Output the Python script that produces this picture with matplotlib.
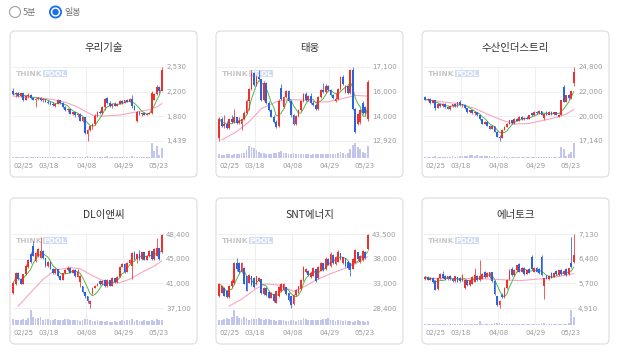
import numpy as np
import pandas as pd
import matplotlib
matplotlib.use('Agg')
import matplotlib.pyplot as plt
from matplotlib.patches import FancyBboxPatch, Rectangle, Circle
from matplotlib.transforms import ScaledTranslation

# ---------------- data ----------------
names = ['우리기술', '태웅', '수산인더스트리', 'DL이앤씨', 'SNT에너지', '에너토크']
date_idx = [0, 14.5, 29.5, 44.5, 60]
date_labels = ['02/25', '03/18', '04/08', '04/29', '05/23']

ylabels_woori = ['1,439', '1,800', '2,200', '2,530']
ylabels_taewoong = ['12,920', '14,000', '16,000', '17,100']
ylabels_susan = ['17,140', '20,000', '22,000', '24,800']
ylabels_dl = ['37,100', '41,000', '45,000', '48,400']
ylabels_snt = ['28,400', '33,000', '38,000', '43,500']
ylabels_enertork = ['4,910', '5,700', '6,400', '7,130']

# rows: open, high, low, close
ohlc_woori = [
    [2170, 2215, 2110, 2125], [2125, 2160, 2095, 2145], [2145, 2160, 2090, 2100], [2100, 2150, 2090, 2140],
    [2140, 2150, 2030, 2050], [2050, 2110, 2040, 2100], [2100, 2140, 2070, 2120], [2120, 2130, 2060, 2070],
    [2070, 2090, 2040, 2050], [2040, 2075, 1945, 2060], [2060, 2090, 2040, 2075], [2075, 2085, 2030, 2040],
    [2040, 2070, 2020, 2060], [2060, 2065, 2010, 2020], [2020, 2040, 1990, 2000], [2000, 2025, 1975, 1985],
    [1985, 2010, 1960, 1970], [1960, 1995, 1940, 1990], [1990, 2065, 1985, 2045], [2045, 2050, 1990, 2000],
    [2000, 2010, 1930, 1945], [1945, 1960, 1880, 1890], [1890, 1920, 1870, 1905], [1905, 1910, 1830, 1840],
    [1840, 1870, 1820, 1860], [1860, 1875, 1800, 1815], [1815, 1850, 1800, 1840], [1840, 1845, 1730, 1740],
    [1730, 1800, 1720, 1790], [1790, 1795, 1545, 1560], [1540, 1620, 1439, 1600], [1600, 1670, 1590, 1660],
    [1660, 1700, 1620, 1690], [1690, 1830, 1680, 1810], [1810, 1880, 1800, 1860], [1860, 1900, 1830, 1845],
    [1845, 1960, 1840, 1940], [1940, 2070, 1900, 2060], [2070, 2085, 1990, 2000], [2000, 2030, 1940, 1950],
    [1950, 1990, 1930, 1980], [1980, 2010, 1950, 1960], [1960, 2000, 1950, 1990], [1990, 2040, 1980, 2030],
    [2030, 2050, 1990, 2000], [2000, 2050, 1995, 2045], [2045, 2060, 2010, 2020], [2020, 2070, 2015, 2060],
    [2060, 2120, 1930, 1950], [1950, 1965, 1890, 1900], [1730, 1880, 1715, 1865], [1865, 1880, 1820, 1830],
    [1830, 1850, 1810, 1845], [1845, 1860, 1815, 1825], [1825, 1850, 1815, 1840], [1840, 1860, 1830, 1850],
    [1850, 2180, 1830, 2150], [2050, 2150, 2040, 2130], [2130, 2260, 2110, 2240], [2240, 2250, 2150, 2170],
    [2180, 2530, 2170, 2480]]

ohlc_taewoong = [
    [13100, 14250, 12920, 14190], [14190, 14250, 13700, 13750], [13750, 14380, 13650, 13900], [13900, 14050, 13600, 13650],
    [13650, 14200, 13600, 14150], [14150, 14400, 13950, 14000], [14000, 14750, 13950, 14250], [14250, 14300, 13900, 13950],
    [13950, 14300, 13900, 14050], [13900, 14200, 13550, 14150], [14150, 14600, 14100, 14500], [14500, 15300, 14450, 15200],
    [15200, 15900, 14650, 15850], [15850, 16950, 15800, 16750], [16750, 16800, 16050, 16100], [16100, 16650, 16050, 16550],
    [16550, 16950, 16350, 16400], [16400, 16450, 15200, 15250], [15250, 16300, 15200, 16200], [16200, 16250, 15000, 15050],
    [15050, 15200, 14600, 14650], [14650, 14750, 14250, 14300], [14300, 14400, 13950, 14000], [14000, 14100, 13650, 13700],
    [13750, 15300, 13700, 15200], [15900, 16150, 15250, 15300], [14850, 15450, 14800, 15400], [15400, 15800, 15350, 15750],
    [15750, 15800, 15100, 15200], [15200, 15250, 14300, 14400], [14400, 14450, 13850, 13900], [13900, 14400, 13820, 14350],
    [14350, 14700, 14300, 14650], [14650, 15250, 14600, 15200], [15200, 15650, 15150, 15600], [15600, 15700, 15200, 15250],
    [15250, 15500, 15200, 15450], [15450, 15650, 15000, 15050], [15050, 15200, 14900, 14950], [14950, 15050, 14650, 14700],
    [14700, 15450, 14650, 15400], [15400, 15850, 15350, 15800], [15800, 16200, 15650, 15700], [15700, 16150, 15650, 16050],
    [16050, 16100, 15750, 15800], [15800, 15850, 15450, 15500], [15500, 15600, 15300, 15350], [15200, 15650, 15150, 15300],
    [15300, 15900, 15250, 15850], [15850, 16600, 15800, 16540], [16540, 16650, 16100, 16150], [15700, 16100, 15650, 16000],
    [16000, 16050, 15600, 15650], [15650, 17000, 15600, 16950], [16950, 17100, 14650, 14700], [14700, 14800, 13350, 13450],
    [13900, 14500, 13800, 14450], [14000, 14750, 13900, 14650], [15040, 15200, 14450, 14480], [14850, 14900, 14450, 14480],
    [14150, 16350, 14050, 16250]]

ohlc_susan = [
    [21700, 21750, 21350, 21400], [21400, 21550, 21300, 21500], [21500, 21550, 21000, 21100], [21100, 21400, 21050, 21350],
    [21350, 21400, 20330, 20600], [20600, 21100, 20550, 21000], [21000, 21100, 20700, 20750], [20750, 21050, 20700, 21000],
    [21000, 21050, 20600, 20650], [20650, 20750, 20450, 20500], [20500, 20800, 20300, 20750], [20750, 21000, 20700, 20950],
    [20950, 21050, 20700, 20750], [20750, 21200, 20700, 21150], [21150, 21350, 20800, 20850], [20850, 21000, 20700, 20900],
    [20900, 20950, 20500, 20550], [20550, 20600, 20050, 20100], [20100, 20400, 20050, 20350], [20350, 20400, 19950, 20000],
    [20000, 20150, 19800, 20100], [20100, 20150, 19750, 19800], [19800, 19850, 19350, 19400], [19400, 19450, 18900, 18950],
    [18950, 19200, 18900, 19150], [19150, 19200, 18650, 18700], [18700, 18750, 18350, 18400], [18400, 18700, 18350, 18650],
    [18650, 18700, 18050, 18100], [18100, 18150, 17550, 17600], [17600, 17800, 17140, 17450], [17450, 18350, 17400, 18300],
    [18300, 18700, 18250, 18600], [18600, 19000, 18550, 18950], [18950, 19350, 18900, 19300], [19300, 19350, 18950, 19000],
    [19000, 19500, 18950, 19450], [19450, 19500, 19200, 19250], [19250, 19700, 19200, 19650], [19650, 19700, 19350, 19400],
    [19400, 19600, 19350, 19550], [19550, 19700, 19400, 19450], [19450, 19850, 19400, 19800], [20000, 20050, 19750, 19800],
    [19800, 20200, 19750, 20150], [20150, 20250, 19950, 20000], [20000, 20300, 19950, 20200], [20200, 20250, 19800, 19850],
    [19500, 20000, 19300, 19950], [20100, 20200, 19800, 19850], [19850, 20200, 19800, 20150], [20150, 20200, 19850, 19900],
    [19900, 20150, 19850, 20100], [20100, 20150, 19800, 19850], [19650, 19950, 19600, 19850], [19850, 21400, 19800, 21350],
    [22750, 22900, 21150, 21200], [21200, 21950, 21150, 21900], [21900, 22000, 21500, 21550], [21550, 22400, 21500, 22350],
    [23100, 24800, 22800, 24250]]

ohlc_dl = [
    [39450, 41000, 39200, 40950], [40700, 42600, 40650, 42500], [42500, 42600, 41300, 41500], [41500, 41700, 40700, 40800],
    [40800, 42300, 40750, 42250], [42250, 43800, 42200, 43500], [43300, 44600, 43200, 44500], [45300, 45600, 44000, 44100],
    [46500, 47300, 45000, 45100], [44300, 45600, 44200, 45500], [45000, 46200, 44900, 46100], [44800, 47900, 44700, 45800],
    [45800, 45900, 44600, 44700], [44700, 44800, 43300, 43500], [43500, 44300, 43400, 44200], [44200, 44250, 43000, 43100],
    [43100, 43200, 42300, 42400], [42400, 43200, 42300, 43000], [43000, 43100, 41900, 42000], [42000, 42100, 41300, 41400],
    [41400, 42500, 41350, 42400], [42400, 43100, 42300, 42900], [42900, 43500, 42800, 43200], [43200, 43300, 42400, 42500],
    [42500, 43000, 42400, 42900], [42900, 43000, 41900, 42000], [41900, 43000, 41800, 42600], [41000, 42100, 40300, 42000],
    [40400, 40500, 39400, 39500], [39500, 39600, 38700, 38900], [38900, 39000, 37900, 38100], [37700, 38300, 37100, 38200],
    [39400, 40300, 39300, 40200], [40200, 40600, 40100, 40500], [40500, 40900, 40400, 40800], [41200, 41300, 40600, 40700],
    [40700, 41300, 40600, 41200], [41400, 41500, 40300, 40400], [40400, 41500, 40350, 41400], [41400, 41450, 40400, 40500],
    [40500, 41800, 40450, 41700], [41700, 41750, 40900, 41000], [41000, 42000, 40950, 41900], [41900, 43500, 41850, 43400],
    [43400, 43900, 43300, 43800], [43800, 44000, 42500, 42600], [42600, 44100, 42550, 44000], [44000, 44600, 43900, 44500],
    [43500, 45700, 41500, 45500], [45500, 45800, 44500, 44600], [44600, 45400, 44000, 45300], [45300, 46000, 44500, 44600],
    [44600, 45700, 44500, 45600], [45600, 45700, 44400, 44500], [44500, 45200, 44400, 45100], [45100, 45900, 44900, 45800],
    [45800, 45850, 44450, 44550], [44550, 46200, 44500, 46100], [45100, 47800, 45000, 46200], [46200, 46300, 44500, 44600],
    [45600, 48400, 45500, 48300]]

ohlc_snt = [
    [30850, 33400, 30700, 33200], [31550, 32950, 31450, 32850], [32550, 32700, 30800, 30900], [31850, 31950, 30450, 30550],
    [30550, 33000, 30400, 32900], [32900, 34300, 32500, 33900], [33400, 37800, 33300, 37600], [37600, 38700, 35900, 36300],
    [37600, 37800, 35500, 35650], [35650, 37700, 35500, 37500], [36600, 36800, 33200, 33300], [34900, 35000, 31800, 31900],
    [33600, 35300, 33500, 35200], [34900, 35000, 32900, 33000], [34600, 34700, 32500, 32600], [33200, 35000, 33100, 34900],
    [34000, 34800, 33900, 34600], [34300, 34400, 31200, 31400], [31200, 32600, 31000, 32400], [32500, 32600, 30900, 31000],
    [31600, 31700, 30400, 30500], [30500, 31700, 30400, 31500], [31200, 31300, 29700, 29800], [29500, 31900, 29400, 31800],
    [30800, 32800, 30700, 32600], [31800, 33500, 31700, 33200], [32100, 33600, 31900, 33300], [32600, 32700, 31100, 31200],
    [31500, 31600, 29900, 30000], [30800, 30900, 28400, 29000], [29200, 31200, 29100, 31100], [31000, 32300, 30900, 32100],
    [31500, 32900, 31400, 32800], [32200, 34300, 32100, 34200], [34100, 36900, 34000, 36700], [35700, 36500, 35600, 36300],
    [36000, 36100, 35000, 35100], [34700, 35800, 34600, 35500], [35000, 36800, 34900, 36600], [36300, 36400, 33800, 33900],
    [34500, 36900, 34400, 36700], [36000, 37700, 35900, 37500], [37500, 37600, 35900, 36100], [36300, 38800, 36200, 38500],
    [38500, 38700, 37100, 37200], [36900, 39800, 36800, 39500], [39300, 39400, 37400, 37600], [37300, 39100, 37200, 38900],
    [37800, 40200, 37700, 39900], [39600, 39700, 38200, 38300], [37500, 38900, 37400, 38800], [38600, 38700, 36700, 36900],
    [37800, 37900, 36400, 36500], [37500, 37600, 34900, 36200], [36400, 38600, 36300, 38400], [37600, 40400, 37500, 40200],
    [39800, 39900, 38100, 38300], [37700, 39200, 37600, 39000], [38100, 40300, 38000, 40100], [39900, 40000, 38500, 38700],
    [40400, 43500, 40300, 43300]]

ohlc_enertork = [
    [5770, 5860, 5740, 5850], [5850, 5870, 5740, 5760], [5760, 5830, 5740, 5810], [5810, 5830, 5660, 5680],
    [5720, 5740, 5440, 5460], [5480, 5830, 5460, 5800], [5800, 5960, 5780, 5920], [5920, 6010, 5800, 5820],
    [5870, 5900, 5760, 5780], [5780, 5880, 5760, 5860], [5870, 5890, 5760, 5780], [5780, 5800, 5690, 5710],
    [5710, 5880, 5700, 5860], [5830, 5850, 5680, 5700], [5800, 5830, 5700, 5720], [5720, 5920, 5710, 5900],
    [5500, 5760, 5480, 5740], [5740, 5750, 5580, 5600], [5600, 5760, 5580, 5740], [5640, 5860, 5620, 5840],
    [5700, 6100, 5680, 5900], [5880, 5900, 5730, 5750], [5750, 6350, 5730, 5880], [5780, 5950, 5770, 5930],
    [5980, 6020, 5820, 5850], [5850, 5990, 5840, 5960], [5830, 6000, 5810, 5980], [5990, 6000, 5700, 5720],
    [5720, 5740, 5300, 5340], [5260, 5280, 4980, 5010], [5010, 5150, 4910, 5130], [5300, 5350, 5200, 5230],
    [5230, 5550, 5200, 5520], [5500, 5780, 5480, 5760], [5780, 6080, 5760, 6050], [6080, 6150, 5880, 5900],
    [5900, 6080, 5880, 6050], [6050, 6210, 6000, 6200], [6230, 6260, 5980, 6000], [6000, 6150, 5980, 6120],
    [6120, 6130, 5900, 5920], [5940, 6060, 5920, 6040], [6070, 6100, 5950, 5970], [6450, 6500, 6050, 6080],
    [5990, 6140, 5980, 6120], [6120, 6150, 5980, 6000], [6070, 6100, 5940, 5960], [6450, 6500, 5880, 5900],
    [5560, 5820, 5170, 5800], [5880, 5900, 5770, 5780], [5780, 5900, 5760, 5880], [5950, 5980, 5800, 5820],
    [5840, 6000, 5830, 5970], [6030, 6050, 5900, 5920], [5900, 6060, 5880, 6050], [6050, 6080, 5900, 5920],
    [5920, 6050, 5900, 6030], [6070, 6100, 5880, 5900], [5920, 6120, 5900, 6100], [6250, 7050, 6100, 6140],
    [6300, 7130, 6250, 6500]]

vol_woori = [8, 6, 5, 7, 9, 6, 5, 5, 6, 7, 5, 5, 4, 6, 5, 5, 6, 8, 9, 6,
             5, 6, 5, 4, 5, 6, 5, 6, 7, 9, 12, 8, 7, 8, 9, 7, 8, 9, 10, 7,
             6, 5, 6, 7, 6, 8, 7, 9, 10, 8, 9, 7, 6, 5, 6, 9, 100, 45, 80, 20, 65]
vol_taewoong = [22, 18, 15, 20, 22, 18, 25, 20, 22, 28, 30, 45, 70, 60, 55, 45, 35, 30, 28, 25,
                22, 25, 28, 30, 35, 38, 30, 28, 25, 22, 28, 25, 20, 22, 25, 22, 20, 18, 22, 20,
                25, 22, 20, 22, 25, 20, 22, 25, 30, 35, 28, 25, 30, 50, 75, 85, 60, 50, 35, 30, 70]
vol_susan = [6, 5, 8, 6, 10, 8, 6, 5, 7, 9, 8, 10, 7, 9, 12, 14, 10, 12, 18, 20,
             16, 18, 14, 12, 10, 15, 12, 8, 10, 9, 8, 7, 10, 8, 6, 9, 8, 7, 9, 8,
             7, 6, 8, 7, 9, 8, 7, 6, 8, 7, 6, 8, 7, 6, 9, 70, 60, 15, 25, 40, 100]
vol_dl = [40, 30, 35, 30, 38, 35, 45, 100, 55, 40, 45, 50, 35, 40, 38, 30, 35, 40, 32, 35,
          30, 38, 40, 30, 35, 32, 30, 28, 35, 38, 40, 30, 28, 25, 30, 28, 25, 22, 25, 20,
          22, 25, 20, 28, 30, 25, 35, 30, 40, 28, 30, 25, 28, 30, 25, 28, 30, 25, 38, 30, 32]
vol_snt = [30, 35, 40, 45, 38, 50, 100, 60, 45, 40, 50, 45, 35, 40, 42, 38, 45, 40, 35, 38,
           40, 30, 35, 28, 32, 35, 30, 28, 25, 30, 32, 28, 30, 35, 45, 38, 32, 30, 35, 30,
           32, 35, 40, 38, 45, 35, 30, 28, 32, 30, 28, 30, 25, 28, 22, 25, 30, 28, 25, 22, 25]
vol_enertork = [5, 4, 5, 4, 6, 5, 4, 5, 4, 5, 4, 5, 6, 4, 5, 4, 6, 5, 4, 5,
                6, 5, 25, 8, 6, 5, 6, 7, 10, 12, 10, 8, 7, 8, 9, 7, 6, 8, 7, 6,
                5, 6, 5, 8, 6, 5, 7, 12, 10, 6, 5, 6, 5, 6, 5, 6, 8, 7, 10, 100, 55]

# 20-day moving average (pink), read at selected days
ma20_idx_woori = [0, 5, 10, 16, 21, 26, 32, 36, 43, 50, 55, 58, 60]
ma20_woori = [2100, 2090, 2080, 2050, 2010, 1940, 1820, 1806, 1821, 1870, 1900, 1940, 1990]
ma20_idx_taewoong = [1, 7, 12, 17, 23, 28, 34, 39, 44, 50, 55, 60]
ma20_taewoong = [12980, 13450, 14000, 14750, 15130, 15260, 15230, 15130, 15130, 15320, 15500, 15450]
ma20_idx_susan = [0, 7, 13, 20, 26, 31, 36, 42, 47, 53, 57, 60]
ma20_susan = [21430, 21190, 21020, 20510, 19820, 19300, 18890, 18960, 19240, 19580, 19920, 20400]
ma20_idx_dl = [2, 7, 12, 17, 23, 27, 31, 35, 39, 43, 47, 53, 57, 60]
ma20_dl = [37400, 39440, 41480, 42900, 43260, 43100, 42240, 41480, 40970, 40970, 41480, 42750, 43510, 44280]
ma20_idx_snt = [4, 9, 15, 19, 24, 30, 35, 39, 45, 52, 57, 60]
ma20_snt = [28800, 30200, 32400, 33300, 33100, 31800, 32900, 34100, 35400, 36700, 37900, 38900]
ma20_idx_enertork = [0, 11, 22, 29, 38, 46, 52, 60]
ma20_enertork = [5800, 5790, 5790, 5770, 5730, 5780, 5830, 5940]

panels = [
    (ohlc_woori, vol_woori, ma20_idx_woori, ma20_woori, ylabels_woori),
    (ohlc_taewoong, vol_taewoong, ma20_idx_taewoong, ma20_taewoong, ylabels_taewoong),
    (ohlc_susan, vol_susan, ma20_idx_susan, ma20_susan, ylabels_susan),
    (ohlc_dl, vol_dl, ma20_idx_dl, ma20_dl, ylabels_dl),
    (ohlc_snt, vol_snt, ma20_idx_snt, ma20_snt, ylabels_snt),
    (ohlc_enertork, vol_enertork, ma20_idx_enertork, ma20_enertork, ylabels_enertork),
]

# ---------------- style / layout ----------------
W, H = 618, 355
RED = '#f0302c'
BLUE = '#2d62de'
PINK = '#f7a6c2'
GREEN = '#52b64a'
VOLC = '#c2c5ec'
GRID = '#ececec'
LBL = '#9a9a9a'
KR = ['Noto Sans CJK KR', 'DejaVu Sans']

card_x = [10, 216, 422]
card_y = [31, 198]
card_w, card_h = 187, 146

fig = plt.figure(figsize=(W / 100, H / 100), dpi=100)
fig.patch.set_facecolor('white')

bg = fig.add_axes([0, 0, 1, 1])
bg.set_xlim(0, W)
bg.set_ylim(H, 0)
bg.axis('off')

# radio buttons
bg.add_patch(Circle((15, 12), 5.5, fc='white', ec='#a0a0a0', lw=0.8))
bg.text(23, 12.3, '5분', family=KR, fontsize=6.5, color='#777777', ha='left', va='center')
bg.add_patch(Circle((55.5, 12), 5.6, fc='white', ec='#1a6ff0', lw=1.3))
bg.add_patch(Circle((55.5, 12), 3.2, fc='#1a6ff0', ec='none'))
bg.text(64.5, 12.3, '일봉', family=KR, fontsize=6.5, color='#777777', ha='left', va='center')


def px_rect(x0, y0, x1, y1):
    return [x0 / W, 1 - y1 / H, (x1 - x0) / W, (y1 - y0) / H]


for k, (ohlc, vol, mi, mv, ylab) in enumerate(panels):
    r, c = divmod(k, 3)
    L, T = card_x[c], card_y[r]
    bg.add_patch(FancyBboxPatch((L, T), card_w, card_h,
                                boxstyle='round,pad=0,rounding_size=5',
                                fc='white', ec='#dcdcdc', lw=0.8))
    bg.text(L + card_w / 2, T + 17, names[k], family=KR, fontsize=7.5,
            fontweight='medium', color='#333333', ha='center', va='center')
    # watermark
    bg.add_patch(Rectangle((L + 33.3, T + 39), 23.4, 6.8, fc='#cfdcf3', ec='none'))
    bg.text(L + 6, T + 42.6, 'THINK', fontsize=5.4, fontweight='bold',
            color='#c6c6c6', ha='left', va='center')
    bg.text(L + 33.6, T + 42.6, 'POOL', fontsize=5.4, fontweight='bold',
            color='white', ha='left', va='center')

    axp = fig.add_axes(px_rect(L + 2, T + 36, L + 153, T + 110))
    axv = fig.add_axes(px_rect(L + 2, T + 110, L + 153, T + 127))

    arr = np.array(ohlc, dtype=float)
    o, h, l, cl = arr[:, 0], arr[:, 1], arr[:, 2], arr[:, 3]
    x = np.arange(len(cl))
    lo, hi = l.min(), h.max()
    cols = np.where(cl >= o, RED, BLUE)

    for ax in (axp, axv):
        ax.set_facecolor('none')
        for s in ax.spines.values():
            s.set_visible(False)
        ax.set_xlim(-0.53, len(cl) - 1 + 0.53)
        for d in date_idx[1:4]:
            ax.axvline(d, color=GRID, lw=0.6, zorder=0)

    yt = np.linspace(lo, hi, 4)
    axp.set_ylim(lo, hi)
    axp.set_yticks(yt)
    axp.set_yticklabels(ylab)
    axp.yaxis.tick_right()
    axp.tick_params(axis='y', length=0, pad=2.2, labelsize=5, colors=LBL)
    axp.set_xticks([])
    for v in yt:
        axp.axhline(v, color=GRID, lw=0.6, zorder=0, clip_on=False)

    # moving averages
    axp.plot(mi, mv, color=PINK, lw=0.8, zorder=1, clip_on=False)
    ma5 = pd.Series(cl).rolling(5, min_periods=1).mean()
    axp.plot(x, ma5, color=GREEN, lw=0.7, zorder=2, clip_on=False)

    # candles
    axp.vlines(x, l, h, colors=cols, lw=0.55, zorder=3, clip_on=False)
    bh = np.maximum(np.abs(cl - o), (hi - lo) * 0.009)
    axp.bar(x, bh, bottom=np.minimum(o, cl), width=0.72, color=cols,
            lw=0, zorder=4, clip_on=False)

    # volume
    vv = np.array(vol, dtype=float)
    axv.bar(x, vv, width=0.72, color=VOLC, lw=0, zorder=2)
    axv.set_ylim(0, vv.max() * 1.12)
    axv.set_yticks([])
    axv.set_xticks(date_idx)
    axv.set_xticklabels(date_labels)
    axv.tick_params(axis='x', length=0, pad=3.6, labelsize=5, colors=LBL)
    tl = axv.get_xticklabels()
    tl[0].set_ha('left')
    tl[-1].set_transform(tl[-1].get_transform() +
                         ScaledTranslation(-3 / 100, 0, fig.dpi_scale_trans))

fig.savefig('out.png', dpi=100, facecolor='white')
